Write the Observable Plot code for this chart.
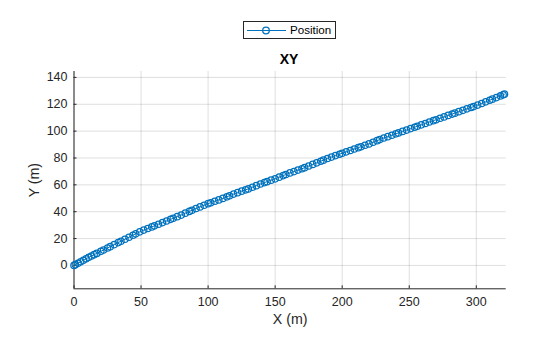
<!DOCTYPE html>
<html>
<head>
<meta charset="utf-8">
<script src="https://cdn.jsdelivr.net/npm/d3@7"></script>
<script src="https://cdn.jsdelivr.net/npm/@observablehq/plot@0.6"></script>
<style>
  html, body { margin: 0; padding: 0; background: #fff; }
  body { width: 560px; height: 337px; overflow: hidden; font-family: "Liberation Sans", Arial, sans-serif; }
  #head { position: relative; width: 560px; height: 64px; }
  #legend { position: absolute; left: 243px; top: 21px; width: 91px; height: 16px; border: 1px solid #262626; background: #fff; }
  #legend svg { position: absolute; left: 0; top: 0; }
  #legend span { position: absolute; left: 46px; top: 1px; font-size: 11.6px; color: #000; line-height: 14px; }
  #title { position: absolute; left: 189px; width: 200px; top: 50px; text-align: center; font-weight: bold; font-size: 14px; color: #000; line-height: 18px; }
  #chart svg { display: block; }
</style>
</head>
<body>
<div id="head">
  <div id="legend">
    <svg width="46" height="16">
      <line x1="3" x2="42" y1="8.5" y2="8.5" stroke="#0072BD" stroke-width="1.2"></line>
      <circle cx="22" cy="8.5" r="3.3" fill="none" stroke="#0072BD" stroke-width="1.3"></circle>
    </svg>
    <span>Position</span>
  </div>
  <div id="title">XY</div>
</div>
<div id="chart"></div>
<script>
const xVals = [0,1,3,5,7,9,11,13,15,17,20,22,25,27,30,33,35,38,41,44,46,49,52,55,58,60,63,66,69,72,74,77,80,83,86,88,91,94,97,100,102,105,108,111,114,116,119,122,125,128,130,133,136,139,142,144,147,150,153,156,158,161,164,167,170,172,175,178,181,184,186,189,192,195,198,200,203,206,209,212,214,217,220,223,226,228,231,234,237,240,242,245,248,251,254,256,259,262,265,268,270,273,276,279,282,284,287,290,293,296,298,301,304,307,310,312,315,318,320,321];
const yVals = [0,0.55,1.65,2.75,3.85,4.95,6.0,7.0,8.0,9.0,10.5,11.5,13.0,14.0,15.5,17.0,18.0,19.5,21.0,22.5,23.5,25.0,26.3,27.5,28.7,29.5,30.7,31.9,33.1,34.3,35.1,36.3,37.5,38.9,40.2,41.1,42.4,43.6,44.8,46,46.7,47.8,48.8,49.9,51.1,51.9,53.1,54.2,55.3,56.3,57,58.2,59.4,60.6,61.7,62.4,63.5,64.5,65.7,66.9,67.7,68.9,69.9,71.0,72,72.8,74,75.2,76.4,77.6,78.4,79.6,80.7,81.8,82.8,83.5,84.6,85.6,86.7,87.7,88.4,89.5,90.5,91.7,92.9,93.7,94.9,95.9,96.9,98,98.7,99.8,100.8,101.9,102.9,103.6,104.7,105.7,106.8,107.8,108.5,109.6,110.6,111.7,112.7,113.4,114.5,115.5,116.6,117.6,118.3,119.4,120.6,121.8,123,123.8,125,126.2,127,127.5];
const xTicks = [0, 50, 100, 150, 200, 250, 300];
const yTicks = [0, 20, 40, 60, 80, 100, 120, 140];
const xDomain = [0, 322.3];
const yDomain = [-17.4, 144.4];
const xLabel = "X (m)";
const yLabel = "Y (m)";

const n = Math.min(xVals.length, yVals.length);
const data = d3.range(n).map(i => ({x: xVals[i], y: yVals[i]}));

const W = 560, H = 273;
const mL = 73.5, mR = 54.3, mT = 7, mB = 48.7;
const plotW = W - mL - mR, plotH = H - mT - mB;
const axisColor = "#262626";
const blue = "#0072BD";

const chart = Plot.plot({
  width: W,
  height: H,
  marginLeft: mL,
  marginRight: mR,
  marginTop: mT,
  marginBottom: mB,
  style: {fontFamily: "'Liberation Sans', Arial, sans-serif", fontSize: "12.5px", background: "#fff", color: axisColor},
  x: {domain: xDomain, ticks: xTicks},
  y: {domain: yDomain, ticks: yTicks},
  marks: [
    Plot.gridX(xTicks, {stroke: "#000", strokeOpacity: 0.13}),
    Plot.gridY(yTicks, {stroke: "#000", strokeOpacity: 0.13}),
    Plot.tickX(xTicks, {x: d => d, stroke: axisColor, insetTop: plotH - 3}),
    Plot.tickY(yTicks, {y: d => d, stroke: axisColor, insetRight: plotW - 3}),
    Plot.ruleX([xDomain[0]], {stroke: axisColor}),
    Plot.ruleY([yDomain[0]], {stroke: axisColor}),
    Plot.axisX(xTicks, {tickSize: 0, tickPadding: 8, label: null, fill: axisColor, fontSize: 12.5}),
    Plot.axisY(yTicks, {tickSize: 0, tickPadding: 6.5, label: null, fill: axisColor, fontSize: 12.5}),
    Plot.text([xLabel], {frameAnchor: "bottom", dy: 30.5, lineAnchor: "middle", textAnchor: "middle", fill: axisColor, fontSize: 14.2}),
    Plot.text([yLabel], {frameAnchor: "left", dx: -39.7, rotate: -90, lineAnchor: "middle", textAnchor: "middle", fill: axisColor, fontSize: 14.2}),
    Plot.line(data, {x: "x", y: "y", stroke: blue, strokeWidth: 1.0}),
    Plot.dot(data, {x: "x", y: "y", r: 3.2, stroke: blue, fill: "none", strokeWidth: 1.25})
  ]
});
document.getElementById("chart").appendChild(chart);
</script>
</body>
</html>
